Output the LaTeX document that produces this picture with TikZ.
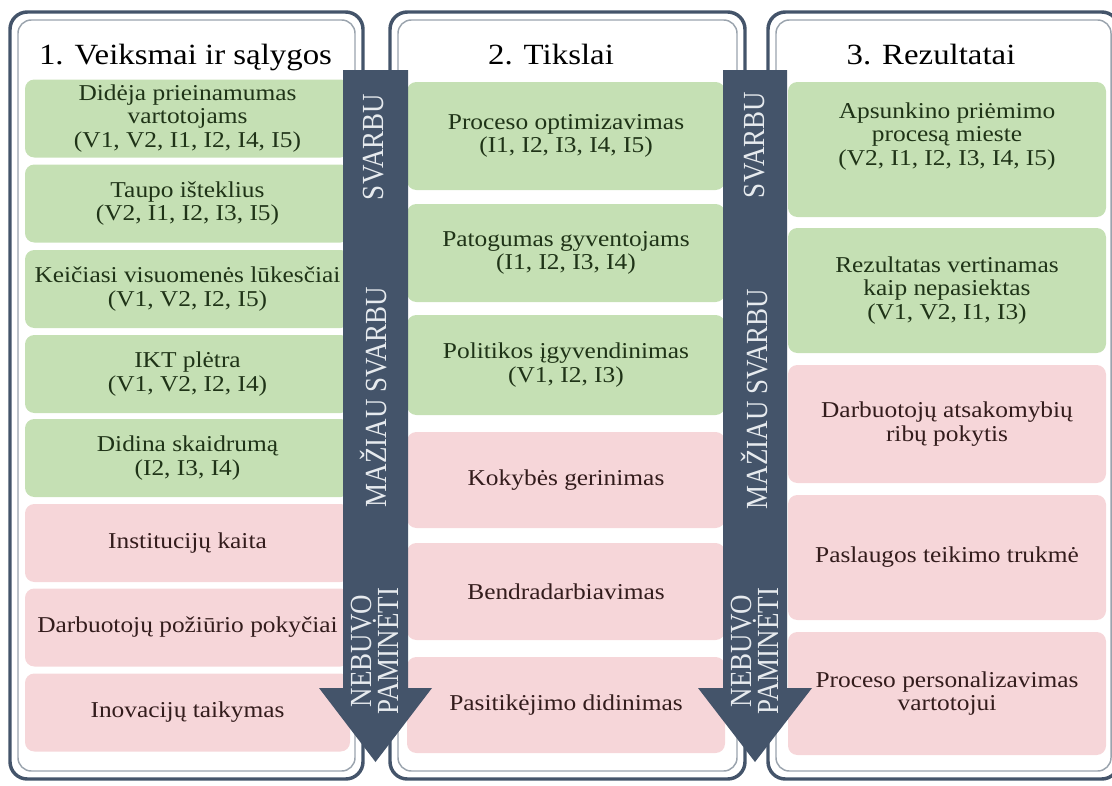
\documentclass[tikz,border=0pt]{standalone}
\usepackage{fontspec}
\setmainfont{Liberation Serif}[FakeStretch=1.12]
\newfontfamily\arrowfont{Liberation Serif}[FakeStretch=0.88]
\usepackage{tikz}

\definecolor{slate}{HTML}{44546A}
\definecolor{rimgray}{HTML}{9AA3AD}
\definecolor{leafgreen}{HTML}{C5E0B4}
\definecolor{rosepink}{HTML}{F6D6D9}
\definecolor{greentext}{HTML}{1F3317}
\definecolor{pinktext}{HTML}{331C1C}
\definecolor{arrowwhite}{HTML}{E6EAEE}

\tikzset{
    panelouter/.style = {draw = slate, line width = 2.6pt, rounded corners = 13pt},
    panelinner/.style = {draw = rimgray, line width = 1.1pt, rounded corners = 10pt},
    cell/.style = {rounded corners = 7pt, align = center, inner sep = 0pt,
        font = {\fontsize{17}{17.5}\selectfont}},
    good/.style = {cell, fill = leafgreen, text = greentext},
    weak/.style = {cell, fill = rosepink, text = pinktext},
    colA/.style = {minimum width = 243.75pt, minimum height = 58.5pt},
    colB/.style = {minimum width = 238.5pt},
    heading/.style = {font = {\fontsize{22}{24}\selectfont}, black, anchor = base},
    arrowtext/.style = {rotate = 90, text = arrowwhite, align = center, inner sep = 0pt,
        font = {\arrowfont\fontsize{23}{16.5}\selectfont}}
}

\begin{document}
\begin{tikzpicture}[x = 0.75pt, y = -0.75pt]
        \useasboundingbox (0, 0) rectangle (1112, 785);
        \clip (0, 0) rectangle (1112, 785);

        \draw[panelouter] (10, 12) rectangle (363, 779);
        \draw[panelinner] (18, 20) rectangle (355, 771);
        \draw[panelouter] (390, 12) rectangle (745, 779);
        \draw[panelinner] (398, 20) rectangle (737, 771);
        \draw[panelouter] (768, 12) rectangle (1119, 779);
        \draw[panelinner] (776, 20) rectangle (1111, 771);

        \node[heading] (head1) at (185.5, 64) {1. Veiksmai ir sąlygos};
        \node[heading] (head2) at (551, 64) {2. Tikslai};
        \node[heading] (head3) at (931, 64) {3. Rezultatai};

        \node[good, colA] (veiks1) at (187.5, 118.5) {Didėja prieinamumas\\vartotojams\\(V1, V2, I1, I2, I4, I5)};
        \node[good, colA] (veiks2) at (187.5, 203.5) {Taupo išteklius\\(V2, I1, I2, I3, I5)};
        \node[good, colA] (veiks3) at (187.5, 289) {Keičiasi visuomenės lūkesčiai\\(V1, V2, I2, I5)};
        \node[good, colA] (veiks4) at (187.5, 374) {IKT plėtra\\(V1, V2, I2, I4)};
        \node[good, colA] (veiks5) at (187.5, 458) {Didina skaidrumą\\(I2, I3, I4)};
        \node[weak, colA] (veiks6) at (187.5, 543) {Institucijų kaita};
        \node[weak, colA] (veiks7) at (187.5, 627.5) {Darbuotojų požiūrio pokyčiai};
        \node[weak, colA] (veiks8) at (187.5, 712.5) {Inovacijų taikymas};

        \node[good, colB, minimum height = 81pt] (tiksl1) at (566, 136) {Proceso optimizavimas\\(I1, I2, I3, I4, I5)};
        \node[good, colB, minimum height = 73.5pt] (tiksl2) at (566, 253) {Patogumas gyventojams\\(I1, I2, I3, I4)};
        \node[good, colB, minimum height = 75pt] (tiksl3) at (566, 365) {Politikos įgyvendinimas\\(V1, I2, I3)};
        \node[weak, colB, minimum height = 72pt] (tiksl4) at (566, 480) {Kokybės gerinimas};
        \node[weak, colB, minimum height = 72.75pt] (tiksl5) at (566, 591.5) {Bendradarbiavimas};
        \node[weak, colB, minimum height = 72pt] (tiksl6) at (566, 705) {Pasitikėjimo didinimas};

        \node[good, colB, minimum height = 101.25pt] (rez1) at (947, 149.5) {Apsunkino priėmimo\\procesą mieste\\(V2, I1, I2, I3, I4, I5)\\[6pt]};
        \node[good, colB, minimum height = 93.75pt] (rez2) at (947, 290.5) {Rezultatas vertinamas\\kaip nepasiektas\\(V1, V2, I1, I3)};
        \node[weak, colB, minimum height = 88.5pt] (rez3) at (947, 424) {Darbuotojų atsakomybių\\ribų pokytis};
        \node[weak, colB, minimum height = 93.75pt] (rez4) at (947, 557.5) {Paslaugos teikimo trukmė};
        \node[weak, colB, minimum height = 92.25pt] (rez5) at (947, 693.5) {Proceso personalizavimas\\vartotojui};

        \fill[slate] (343, 70) -- (408, 70) -- (408, 688) -- (432, 688) -- (375.5, 762)
            -- (319, 688) -- (343, 688) -- cycle;
        \fill[slate] (723, 70) -- (787, 70) -- (787, 688) -- (812, 688) -- (755, 762)
            -- (698, 688) -- (723, 688) -- cycle;

        \node[arrowtext] (svarbu1) at (374, 147) {SVARBU};
        \node[arrowtext] (maziau1) at (374, 397) {MAŽIAU SVARBU};
        \node[arrowtext] (nebuvo1) at (375, 651) {NEBUVO\\PAMINĖTI};
        \node[arrowtext] (svarbu2) at (755, 145) {SVARBU};
        \node[arrowtext] (maziau2) at (755, 399) {MAŽIAU SVARBU};
        \node[arrowtext] (nebuvo2) at (755, 651) {NEBUVO\\PAMINĖTI};
    \end{tikzpicture}
\end{document}
